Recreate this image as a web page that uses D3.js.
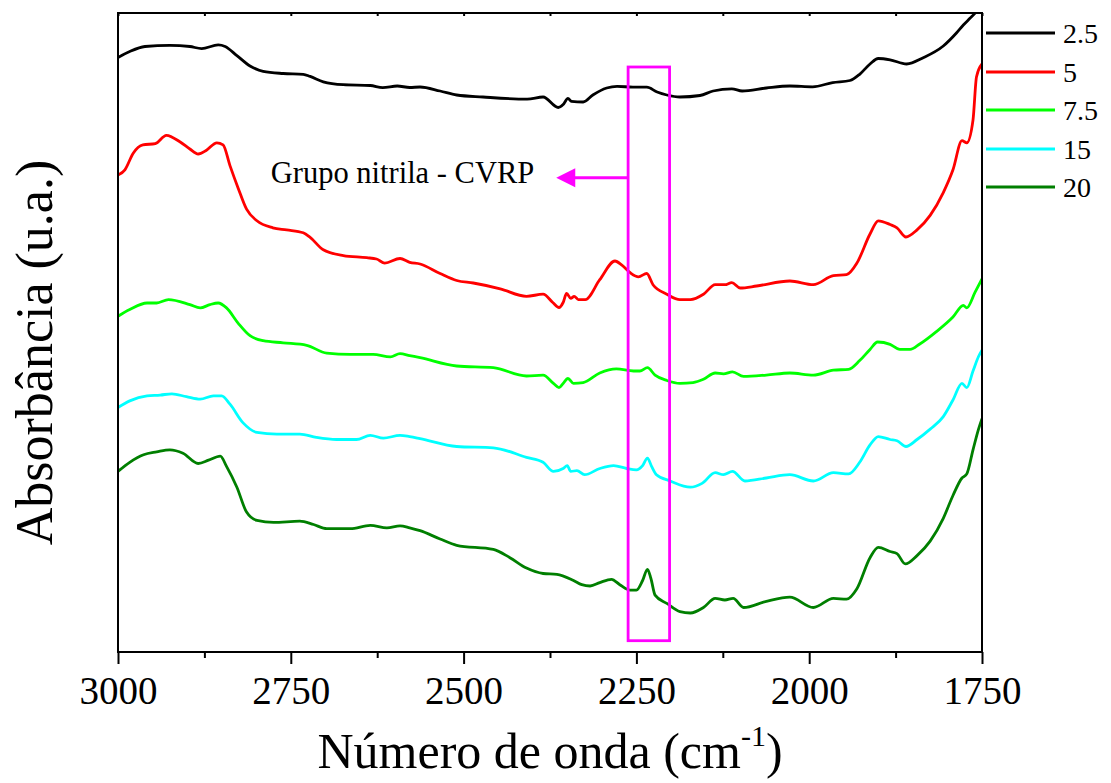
<!DOCTYPE html>
<html>
<head>
<meta charset="utf-8">
<script src="https://cdn.jsdelivr.net/npm/d3@7"></script>
<style>
  body { margin: 0; background: #fff; }
  svg { display: block; }
  text { font-family: "Liberation Serif", "Times New Roman", serif; fill: #000; }
</style>
</head>
<body>
<svg id="chart" width="1111" height="783"></svg>
<script>
// FTIR spectra, [wavenumber (cm-1), absorbance (a.u., stacked offsets)]
const s2_5 = [[3000,59.45],[2983,60.05],[2961,60.55],[2925,60.67],[2896,60.55],[2879,60.34],[2855,60.71],[2845,60.55],[2828,59.64],[2809,58.6],[2790,58.06],[2761,57.85],[2732,57.77],[2722,57.56],[2703,57.02],[2674,56.73],[2635,56.65],[2617,56.44],[2596,56.6],[2578,56.45],[2563,56.5],[2534,56.1],[2510,55.7],[2472,55.5],[2408,55.28],[2385,55.5],[2363,54.45],[2356,54.74],[2349,55.36],[2344,55.07],[2327,55.0],[2313,55.7],[2293,56.4],[2278,56.57],[2255,56.48],[2235,56.48],[2220,56.0],[2206,55.7],[2187,55.5],[2158,55.65],[2139,56.1],[2112,56.32],[2097,56.1],[2062,56.4],[2028,56.6],[1995,56.52],[1966,56.94],[1941,57.15],[1927,57.77],[1912,58.8],[1900,59.35],[1883,59.22],[1859,58.8],[1835,59.43],[1806,60.6],[1787,61.9],[1777,62.7],[1767,63.4],[1760,63.9],[1750,64.9]];
const s5 = [[3000,47.69],[2990,48.22],[2978,49.88],[2964,50.71],[2946,50.84],[2930,51.67],[2910,51.0],[2896,50.3],[2884,49.8],[2872,50.18],[2857,50.92],[2848,50.71],[2838,48.64],[2826,46.36],[2814,44.28],[2799,43.12],[2776,42.42],[2756,42.21],[2732,41.92],[2722,41.46],[2703,40.22],[2674,39.64],[2640,39.43],[2626,39.3],[2614,38.89],[2592,39.35],[2578,38.97],[2563,38.8],[2534,37.85],[2510,37.15],[2486,36.9],[2447,36.32],[2409,35.57],[2385,35.78],[2371,34.95],[2362,34.45],[2356,34.95],[2351,35.86],[2345,35.36],[2340,35.57],[2334,35.24],[2324,35.24],[2303,37.23],[2281,39.1],[2271,38.68],[2259,37.93],[2247,37.52],[2235,37.85],[2226,36.73],[2206,35.78],[2187,35.24],[2172,35.24],[2153,35.78],[2136,36.73],[2122,36.73],[2112,36.94],[2100,36.4],[2076,36.6],[2028,37.1],[1994,36.73],[1965,37.64],[1946,37.73],[1931,38.89],[1912,41.8],[1900,43.12],[1883,42.75],[1873,42.42],[1860,41.5],[1844,42.21],[1825,43.66],[1806,45.94],[1792,48.22],[1779,51.13],[1772,50.92],[1763,53.2],[1758,57.5],[1750,58.81]];
const s7_5 = [[3000,33.58],[2983,34.24],[2958,34.9],[2944,34.9],[2927,35.24],[2896,34.74],[2881,34.41],[2867,34.74],[2855,34.9],[2843,34.41],[2826,32.87],[2809,31.63],[2790,31.13],[2761,30.92],[2727,30.67],[2698,29.88],[2664,29.76],[2631,29.76],[2606,29.51],[2592,29.84],[2578,29.64],[2563,29.43],[2510,28.6],[2457,28.43],[2409,27.6],[2385,27.69],[2370,26.86],[2362,26.44],[2356,26.86],[2349,27.35],[2341,26.86],[2327,26.94],[2303,27.9],[2279,28.31],[2254,28.1],[2245,28.1],[2234,28.43],[2223,27.69],[2206,27.15],[2187,26.86],[2168,26.94],[2153,27.27],[2136,27.9],[2124,27.81],[2111,28.02],[2095,27.56],[2062,27.69],[2028,27.9],[1994,27.69],[1965,28.18],[1943,28.27],[1927,29.14],[1912,30.26],[1901,31.0],[1883,30.76],[1869,30.26],[1854,30.26],[1840,30.8],[1816,32.04],[1792,33.5],[1777,34.66],[1772,34.41],[1760,35.98],[1750,37.31]];
const s15 = [[3000,24.45],[2983,25.11],[2958,25.61],[2939,25.69],[2922,25.82],[2901,25.53],[2881,25.28],[2862,25.61],[2850,25.61],[2838,24.78],[2819,22.91],[2799,21.96],[2770,21.79],[2737,21.79],[2713,21.46],[2684,21.25],[2655,21.25],[2635,21.67],[2616,21.38],[2592,21.67],[2578,21.54],[2563,21.34],[2510,20.55],[2457,20.42],[2409,19.47],[2385,18.97],[2370,18.06],[2356,18.35],[2350,18.64],[2345,18.06],[2336,18.14],[2325,17.73],[2303,18.35],[2283,18.64],[2264,18.35],[2250,18.22],[2241,18.64],[2234,19.39],[2228,18.56],[2221,17.73],[2201,17.1],[2172,16.48],[2155,16.86],[2136,17.93],[2124,17.73],[2111,18.06],[2093,17.1],[2062,17.4],[2028,17.73],[1994,17.1],[1965,17.93],[1943,17.81],[1927,18.97],[1912,20.71],[1900,21.54],[1883,21.25],[1873,21.13],[1860,20.55],[1844,21.25],[1825,22.29],[1806,23.54],[1792,25.2],[1779,26.86],[1772,26.44],[1763,28.1],[1755,29.55],[1750,30.18]];
const s20 = [[3000,18.06],[2983,18.97],[2963,19.72],[2944,20.01],[2925,20.22],[2906,19.88],[2884,18.85],[2869,19.18],[2852,19.59],[2843,18.56],[2828,16.48],[2814,13.99],[2799,13.16],[2775,12.96],[2737,13.08],[2717,12.75],[2698,12.33],[2664,12.33],[2635,12.66],[2611,12.42],[2592,12.62],[2578,12.42],[2563,12.13],[2534,11.3],[2510,10.67],[2457,10.26],[2433,9.43],[2409,8.39],[2385,7.85],[2365,7.77],[2341,7.15],[2329,6.73],[2317,6.6],[2303,6.94],[2286,7.27],[2274,6.73],[2259,6.19],[2250,6.19],[2241,7.15],[2234,8.27],[2229,7.35],[2223,5.69],[2206,4.86],[2187,4.03],[2172,3.9],[2153,4.45],[2136,5.36],[2122,5.2],[2110,5.36],[2095,4.45],[2062,5.07],[2028,5.49],[1994,4.45],[1965,5.36],[1946,5.28],[1931,6.32],[1912,9.43],[1900,10.46],[1883,10.05],[1873,9.84],[1861,8.81],[1844,9.64],[1825,11.09],[1806,13.37],[1792,15.65],[1779,17.4],[1772,17.81],[1763,20.22],[1755,22.29],[1750,23.33]];

const seriesNames = ["2.5", "5", "7.5", "15", "20"];
const seriesValues = [s2_5, s5, s7_5, s15, s20];
const seriesColors = ["#000000", "#ff0000", "#00ff00", "#00ffff", "#007f00"];

const xTicks = [3000, 2750, 2500, 2250, 2000, 1750];
const xMinorTicks = [2875, 2625, 2375, 2125, 1875];

// nitrile band highlight (cm-1) and its label
const bandRange = [2262, 2202];
const bandAbs = [58.5, 1.13];
const bandLabel = "Grupo nitrila - CVRP";
const labelAt = [2779, 46.95];
const arrowAt = [2366, 47.43];

const svg = d3.select("#chart");
const W = 1111, H = 783;
const m = { left: 118, right: 129, top: 13, bottom: 131 };

const x = d3.scaleLinear().domain([3000, 1750]).range([m.left, W - m.right]);
const y = d3.scaleLinear().domain([0, 63.9]).range([H - m.bottom, m.top]);

svg.append("defs").append("clipPath").attr("id", "plot-clip")
  .append("rect")
  .attr("x", m.left).attr("y", m.top)
  .attr("width", W - m.left - m.right).attr("height", H - m.top - m.bottom);

// spectra
const line = d3.line().x(d => x(d[0])).y(d => y(d[1])).curve(d3.curveMonotoneX);
const lines = svg.append("g").attr("clip-path", "url(#plot-clip)");
seriesValues.forEach((s, i) => {
  lines.append("path")
    .datum(s)
    .attr("fill", "none")
    .attr("stroke", seriesColors[i])
    .attr("stroke-width", 2.8)
    .attr("stroke-linejoin", "round")
    .attr("d", line);
});

// nitrile band box and arrow
const mag = "#ff00ff";
svg.append("rect")
  .attr("x", x(bandRange[0])).attr("y", y(bandAbs[0]))
  .attr("width", x(bandRange[1]) - x(bandRange[0]))
  .attr("height", y(bandAbs[1]) - y(bandAbs[0]))
  .attr("fill", "none").attr("stroke", mag).attr("stroke-width", 2.8);

const ay = y(arrowAt[1]);
const tipX = x(arrowAt[0]);
svg.append("line")
  .attr("x1", x(bandRange[0])).attr("x2", tipX + 16)
  .attr("y1", ay).attr("y2", ay)
  .attr("stroke", mag).attr("stroke-width", 3);
svg.append("path")
  .attr("d", `M${tipX},${ay} L${tipX + 19},${ay - 9.5} L${tipX + 19},${ay + 9.5} Z`)
  .attr("fill", mag);

svg.append("text")
  .attr("x", x(labelAt[0])).attr("y", y(labelAt[1]))
  .attr("font-size", 30.5)
  .text(bandLabel);

// frame
const frame = svg.append("g").attr("stroke", "#000").attr("stroke-width", 2).attr("fill", "none");
frame.append("rect")
  .attr("x", m.left).attr("y", m.top)
  .attr("width", W - m.left - m.right).attr("height", H - m.top - m.bottom);

// bottom axis: major and minor ticks
const xAxis = d3.axisBottom(x).tickValues(xTicks).tickSize(12).tickSizeOuter(0).tickPadding(12).tickFormat(d3.format("d"));
const gx = svg.append("g").attr("transform", `translate(0,${H - m.bottom})`).call(xAxis);
gx.select(".domain").remove();
gx.selectAll(".tick line").attr("stroke-width", 2);
gx.selectAll(".tick text").attr("font-size", 39).attr("font-family", "Liberation Serif, serif");

const gxm = svg.append("g").attr("transform", `translate(0,${H - m.bottom})`)
  .call(d3.axisBottom(x).tickValues(xMinorTicks).tickSize(6).tickSizeOuter(0).tickFormat(""));
gxm.select(".domain").remove();
gxm.selectAll(".tick line").attr("stroke-width", 2);

// short inward ticks along the top edge
const gt = svg.append("g").attr("transform", `translate(0,${m.top})`)
  .call(d3.axisBottom(x).tickValues(xTicks.concat(xMinorTicks)).tickSize(3).tickSizeOuter(0).tickFormat(""));
gt.select(".domain").remove();
gt.selectAll(".tick line").attr("stroke-width", 2);

// axis titles
const xt = svg.append("text")
  .attr("x", (m.left + W - m.right) / 2).attr("y", 768)
  .attr("text-anchor", "middle").attr("font-size", 50);
xt.append("tspan").text("Número de onda (cm");
xt.append("tspan").attr("font-size", 30).attr("dy", -22).text("-1");
xt.append("tspan").attr("dy", 22).text(")");

svg.append("text")
  .attr("transform", `translate(52,${(m.top + H - m.bottom) / 2 + 20}) rotate(-90)`)
  .attr("text-anchor", "middle").attr("font-size", 52)
  .text("Absorbância (u.a.)");

// legend
const legend = svg.append("g");
const legendY = [33, 72, 110, 149, 187];
seriesNames.forEach((name, i) => {
  legend.append("line")
    .attr("x1", 986).attr("x2", 1055)
    .attr("y1", legendY[i]).attr("y2", legendY[i])
    .attr("stroke", seriesColors[i]).attr("stroke-width", 2.8);
  legend.append("text")
    .attr("x", 1063).attr("y", legendY[i] + 10)
    .attr("font-size", 28)
    .text(name);
});
</script>
</body>
</html>
